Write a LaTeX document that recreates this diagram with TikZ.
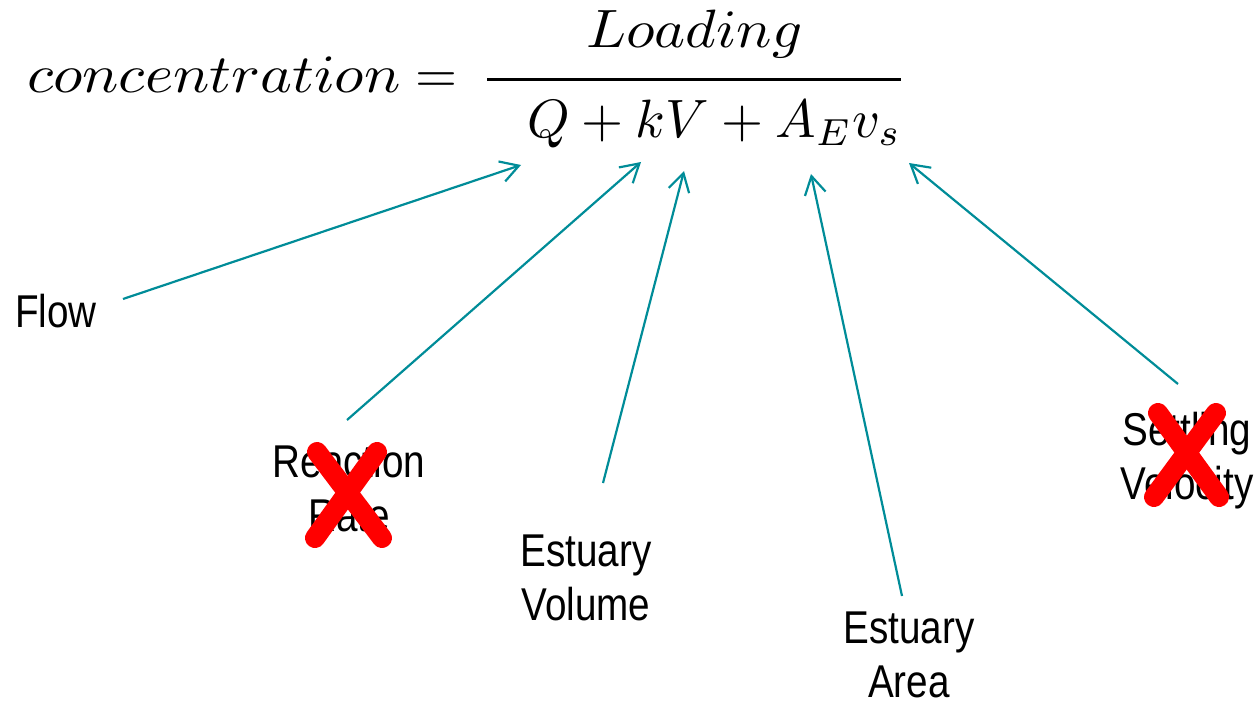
\documentclass[tikz,border=0pt]{standalone}
\usepackage{amsmath}
\usepackage{graphicx}
\usepackage{fontspec}
\newfontfamily\labelfont[FakeStretch=0.84]{Liberation Sans}
\usetikzlibrary{arrows.meta}
\definecolor{arrowteal}{RGB}{0,140,152}
\definecolor{crossred}{RGB}{255,0,0}
\tikzset{
  lbl/.style={font=\labelfont\fontsize{46}{54}\selectfont, align=center, inner sep=0pt, text=black},
  pointer/.style={draw=arrowteal, line width=2.2pt, -{Straight Barb[length=18pt,width=21pt,line width=2.2pt]}},
  strike/.style={draw=crossred, line width=20pt, line cap=round}
}
\begin{document}
\begin{tikzpicture}[x=1pt,y=-1pt]
\useasboundingbox (0,0) rectangle (1259,706);
% equation
\node[anchor=base west, inner sep=0pt] (eq) at (27,93)
  {\scalebox{6.05}[5.4]{$concentration$}\hspace{15pt}%
   \scalebox{5.4}{$=$}\hspace{23pt}%
   \scalebox{5.4}{$\displaystyle\frac{\raisebox{1.7pt}{\scalebox{1.09}[1]{$\displaystyle Loading$}}}%
     {\hspace{7.4pt}\raisebox{-1.3pt}{$\displaystyle Q + kV + A_E v_s$}}$}};
% labels
\node[lbl] (flow) at (56,311) {Flow};
\node[lbl] (rate) at (349,488) {Reaction\\Rate};
\node[lbl] (vol) at (586,578) {Estuary\\Volume};
\node[lbl] (area) at (909,655) {Estuary\\Area};
\node[lbl] (settle) at (1187,461) {Settling\\Velocity};
% arrow ends
\coordinate (s1) at (123,299); \coordinate (t1) at (521,165);
\coordinate (s2) at (347,420); \coordinate (t2) at (641,162);
\coordinate (s3) at (603,483); \coordinate (t3) at (684,171);
\coordinate (s4) at (902,596); \coordinate (t4) at (811,174);
\coordinate (s5) at (1178,384); \coordinate (t5) at (909,163);
\draw[pointer] (s1) -- (t1);
\draw[pointer] (s2) -- (t2);
\draw[pointer] (s3) -- (t3);
\draw[pointer] (s4) -- (t4);
\draw[pointer] (s5) -- (t5);
% crosses
\draw[strike] (317,452) -- (382,538);
\draw[strike] (377,452) -- (315,538);
\draw[strike] (1158,413) -- (1219,497);
\draw[strike] (1216,413) -- (1154,497);
\end{tikzpicture}
\end{document}
